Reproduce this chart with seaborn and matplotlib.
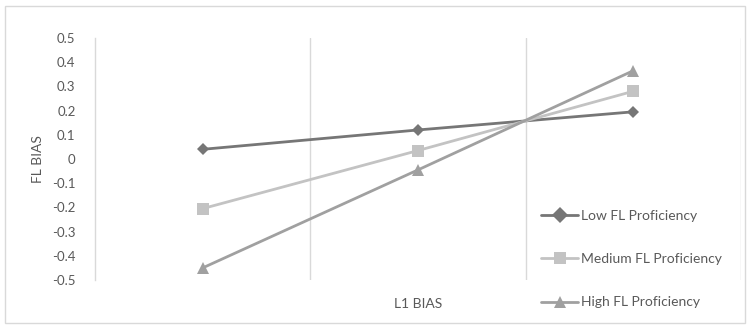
import pandas as pd
import matplotlib.pyplot as plt
import seaborn as sns
from matplotlib.patches import Rectangle

# Values
l1_levels = ["Low L1", "Mid L1", "High L1"]
groups = ["Low FL Proficiency", "Medium FL Proficiency", "High FL Proficiency"]
low_fl = [0.04, 0.12, 0.195]
medium_fl = [-0.205, 0.035, 0.28]
high_fl = [-0.45, -0.045, 0.365]
y_ticks = [0.5, 0.4, 0.3, 0.2, 0.1, 0, -0.1, -0.2, -0.3, -0.4, -0.5]

rows = []
for name, vals in zip(groups, [low_fl, medium_fl, high_fl]):
    for i, v in enumerate(vals):
        rows.append({"pos": i, "level": l1_levels[i], "group": name, "bias": v})
df = pd.DataFrame(rows)

sns.set_theme(style="white")
plt.rcParams["font.family"] = ["Lato", "DejaVu Sans"]
text_col = "#595959"
grid_col = "#d9d9d9"

fig = plt.figure(figsize=(7.51, 3.29), dpi=100)
ax = fig.add_axes([95 / 751, 1 - 280 / 329, (741 - 95) / 751, (280 - 38) / 329])

palette = {groups[0]: "#767676", groups[1]: "#c3c3c3", groups[2]: "#a0a0a0"}
markers = {groups[0]: "D", groups[1]: "s", groups[2]: "^"}
sizes = {groups[0]: 6.5, groups[1]: 8, groups[2]: 8.5}

sns.lineplot(data=df, x="pos", y="bias", hue="group", style="group",
             palette=palette, markers=markers, dashes=False, linewidth=2,
             markersize=8, markeredgewidth=0, ax=ax, legend=True)
for line, g in zip(ax.lines, groups):
    line.set_markersize(sizes[g])

ax.set_xlim(-0.5, 2.5)
ax.set_ylim(-0.5, 0.5)
ax.set_yticks(y_ticks)
ax.set_yticklabels([f"{t:g}" for t in y_ticks])
ax.set_xticks([])
for x in [0.5, 1.5, 2.5]:
    ax.axvline(x, color=grid_col, linewidth=1, zorder=0)
for side in ["top", "right", "bottom"]:
    ax.spines[side].set_visible(False)
ax.spines["left"].set_color(grid_col)
ax.spines["left"].set_linewidth(1)
ax.tick_params(axis="y", length=0, pad=14, labelsize=9.5, labelcolor=text_col)
ax.set_xlabel("L1 BIAS", fontsize=10, color=text_col)
ax.set_ylabel("FL BIAS", fontsize=10, color=text_col, labelpad=6)
ax.xaxis.set_label_coords(0.5, -0.075)

leg = ax.legend(loc="upper left", bbox_to_anchor=(534 / 751, 1 - 203 / 329),
                bbox_transform=fig.transFigure, frameon=False, fontsize=10,
                handlelength=2.7, handletextpad=0.2, labelspacing=2.25,
                borderpad=0)
for t in leg.get_texts():
    t.set_color(text_col)

fig.patches.append(Rectangle((5 / 751, 6 / 329), 740 / 751, 317 / 329,
                             transform=fig.transFigure, fill=False,
                             edgecolor="#d9d9d9", linewidth=1))

plt.savefig("out.png", dpi=100)
plt.close()
